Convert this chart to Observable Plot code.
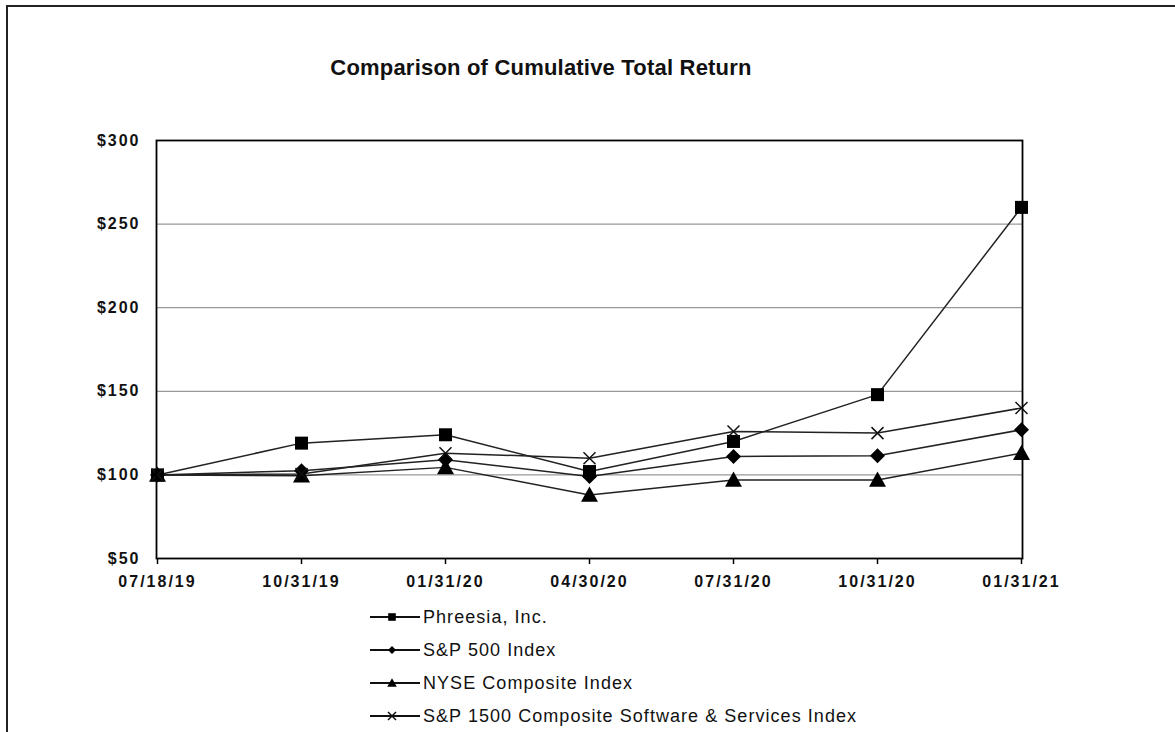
<!DOCTYPE html>
<html>
<head>
<meta charset="utf-8">
<script src="https://cdn.jsdelivr.net/npm/d3@7"></script>
<script src="https://cdn.jsdelivr.net/npm/@observablehq/plot@0.6"></script>
<style>
  html, body { margin: 0; padding: 0; background: #fff; }
  #wrap { position: relative; width: 1175px; height: 732px; overflow: hidden; font-family: "Liberation Sans", Arial, sans-serif; }
  #border { position: absolute; left: 6px; top: 5px; width: 1300px; height: 900px; border-top: 2px solid #222; border-left: 2px solid #222; }
  #title { position: absolute; left: 241px; width: 600px; top: 57px; text-align: center; font-size: 22px; line-height: 22px; font-weight: bold; letter-spacing: 0.2px; color: #111; }
  #chart { position: absolute; left: 0; top: 0; }
  .row { position: absolute; left: 368px; height: 20px; display: flex; align-items: center; font-size: 18px; line-height: 20px; letter-spacing: 1.05px; color: #111; white-space: nowrap; }
  .row svg { display: block; }
  .row span { margin-left: 3px; }
</style>
</head>
<body>
<div id="wrap">
  <div id="border"></div>
  <div id="title">Comparison of Cumulative Total Return</div>
  <div id="chart"></div>
  <div id="legend"></div>
</div>
<script>
// ---- Data ----
const dates = ["07/18/19", "10/31/19", "01/31/20", "04/30/20", "07/31/20", "10/31/20", "01/31/21"];
const seriesNames = ["Phreesia, Inc.", "S&P 500 Index", "NYSE Composite Index", "S&P 1500 Composite Software & Services Index"];
const phreesia = [100, 119, 124, 102, 120, 148, 260];
const sp500    = [100, 102.5, 109, 99, 111, 111.5, 127];
const nyse     = [100, 99.5, 104.5, 88, 97, 97, 113];
const sp1500   = [100, 100.5, 113, 110, 126, 125, 140];
const yTicks = [50, 100, 150, 200, 250, 300];
const gridValues = [100, 150, 200, 250];

const seriesValues = [phreesia, sp500, nyse, sp1500];
const rows = seriesNames.flatMap((name, i) =>
  dates.map((d, j) => ({series: name, date: d, value: seriesValues[i][j]})));

// ---- Custom marker symbols ----
function mkSym(kind, s) {
  return {
    draw(ctx) {
      if (kind === "square") { ctx.rect(-s, -s, 2 * s, 2 * s); }
      else if (kind === "diamond") { ctx.moveTo(0, -s); ctx.lineTo(s, 0); ctx.lineTo(0, s); ctx.lineTo(-s, 0); ctx.closePath(); }
      else if (kind === "triangle") { ctx.moveTo(0, -s); ctx.lineTo(s, s * 0.8); ctx.lineTo(-s, s * 0.8); ctx.closePath(); }
      else if (kind === "times") { ctx.moveTo(-s, -s); ctx.lineTo(s, s); ctx.moveTo(s, -s); ctx.lineTo(-s, s); }
    }
  };
}
const kinds = ["square", "diamond", "triangle", "times"];
const chartSizes = [6.5, 7.5, 8.5, 6];
const legendSizes = [3.8, 4, 4.8, 4];

const dotMarks = seriesNames.map((name, i) => {
  const data = rows.filter(r => r.series === name);
  const isStroke = kinds[i] === "times";
  return Plot.dot(data, {
    x: "date", y: "value",
    symbol: mkSym(kinds[i], chartSizes[i]),
    fill: isStroke ? "none" : "#000",
    stroke: isStroke ? "#111" : "none",
    strokeWidth: isStroke ? 1.5 : 0
  });
});

const chart = Plot.plot({
  width: 1175,
  height: 732,
  marginLeft: 156,
  marginRight: 153,
  marginTop: 140,
  marginBottom: 174,
  style: {fontFamily: "'Liberation Sans', Arial, sans-serif", background: "transparent", overflow: "visible"},
  x: {type: "point", domain: dates, padding: 0, label: null},
  y: {domain: [50, 300], label: null},
  marks: [
    Plot.gridY(gridValues, {stroke: "#999", strokeOpacity: 1, strokeWidth: 1.2}),
    Plot.line(rows, {x: "date", y: "value", z: "series", stroke: "#222", strokeWidth: 1.5}),
    ...dotMarks,
    Plot.frame({stroke: "#000", strokeWidth: 1.8}),
    Plot.axisX({tickSize: 6, tickPadding: 11, fontSize: 16, fontWeight: "bold", stroke: "#000", strokeWidth: 1.5, label: null,
      tickFormat: d => d}),
    Plot.axisY(yTicks, {tickSize: 0, tickPadding: 16, fontSize: 16, fontWeight: "bold", label: null,
      tickFormat: d => "$" + d})
  ]
});
chart.querySelectorAll("text").forEach(t => t.setAttribute("letter-spacing", "2px"));
chart.querySelectorAll("g[aria-label='x-axis tick label'] text, g[aria-label='y-axis tick label'] text").forEach(t => t.setAttribute("fill", "#111"));
document.getElementById("chart").appendChild(chart);

// ---- Legend ----
const legend = d3.select("#legend");
const rowTops = [607, 640, 673, 706];
seriesNames.forEach((name, i) => {
  const row = legend.append("div").attr("class", "row").style("top", rowTops[i] + "px");
  const svg = row.append("svg").attr("width", 52).attr("height", 20);
  svg.append("line").attr("x1", 2).attr("x2", 52).attr("y1", 10).attr("y2", 10).attr("stroke", "#111").attr("stroke-width", 2);
  const p = d3.path();
  mkSym(kinds[i], legendSizes[i]).draw(p);
  const isStroke = kinds[i] === "times";
  svg.append("path").attr("d", p.toString()).attr("transform", "translate(24,10)")
    .attr("fill", isStroke ? "none" : "#000").attr("stroke", isStroke ? "#111" : "none").attr("stroke-width", 1.5);
  row.append("span").text(name);
});
</script>
</body>
</html>
